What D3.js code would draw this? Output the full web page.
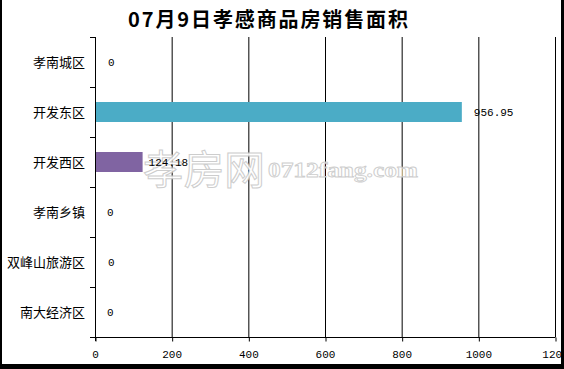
<!DOCTYPE html>
<html><head><meta charset="utf-8">
<script src="https://cdn.jsdelivr.net/npm/d3@7"></script>
<style>body{margin:0;background:#fff}svg{display:block}</style>
</head><body>
<svg id="c" width="564" height="369"></svg>
<script>
const title = "07月9日孝感商品房销售面积";
const categories = ["孝南城区","开发东区","开发西区","孝南乡镇","双峰山旅游区","南大经济区"];
const values = [0, 956.95, 124.18, 0, 0, 0];
const valueLabels = ["0","956.95","124.18","0","0","0"];
const barColors = ["#4BACC6","#4BACC6","#8064A2","#4BACC6","#4BACC6","#4BACC6"];
const xTicks = [0,200,400,600,800,1000,1200];

const svg = d3.select("#c");
const W = 564, H = 369;
const m = {left:95, right:9, top:37, bottom:32};
const x = d3.scaleLinear().domain([0,1200]).range([m.left, W - m.right]);
const y = d3.scaleBand().domain(categories).range([m.top, H - m.bottom]).paddingInner(0).paddingOuter(0);

// title
svg.append("text").attr("x", 268).attr("y", 27).attr("text-anchor","middle")
  .attr("font-family","'Noto Sans CJK SC', sans-serif").attr("font-weight","bold")
  .attr("font-size",20).attr("textLength",280).attr("lengthAdjust","spacing")
  .attr("fill","#000").text(title);

// gridlines
svg.append("g").selectAll("line").data(xTicks.slice(1)).join("line")
  .attr("x1", d=>x(d)+0.5).attr("x2", d=>x(d)+0.5)
  .attr("y1", m.top).attr("y2", H - m.bottom)
  .attr("stroke","#000").attr("stroke-width",1);

// bars
const bh = y.bandwidth()*0.4;
svg.append("g").selectAll("rect").data(values).join("rect")
  .attr("x", x(0)).attr("y", (d,i)=>y(categories[i]) + (y.bandwidth()-bh)/2)
  .attr("width", d=>x(d)-x(0)).attr("height", bh)
  .attr("fill", (d,i)=>barColors[i]);

// watermark
const wm = svg.append("g").attr("opacity",0.9);
wm.append("text").attr("x",143).attr("y",184)
  .attr("font-family","'Noto Sans CJK SC', sans-serif").attr("font-size",40)
  .attr("textLength",122).attr("lengthAdjust","spacingAndGlyphs")
  .attr("fill","#fff").attr("stroke","#c8c8c8").attr("stroke-width",1).text("孝房网");
wm.append("text").attr("x",268).attr("y",177)
  .attr("font-family","'Liberation Serif', serif").attr("font-weight","bold").attr("font-size",20)
  .attr("textLength",150).attr("lengthAdjust","spacingAndGlyphs")
  .attr("fill","#fff").attr("stroke","#c8c8c8").attr("stroke-width",0.8).text("0712fang.com");

// value labels
const dxs = [13, 12, 6, 12, 13, 12];
svg.append("g").selectAll("text").data(values).join("text")
  .attr("x", (d,i)=>x(d)+dxs[i]).attr("y", (d,i)=>y(categories[i]) + y.bandwidth()/2 + 4)
  .attr("font-family","'Liberation Mono', monospace").attr("font-size",11)
  .attr("fill","#000").text((d,i)=>valueLabels[i]);

// y axis
const ya = svg.append("g");
ya.append("line").attr("x1",m.left+0.5).attr("x2",m.left+0.5).attr("y1",m.top).attr("y2",H-m.bottom+4).attr("stroke","#000");
const bounds = categories.map(c=>y(c)).concat([H-m.bottom]);
ya.selectAll("line.t").data(bounds).join("line").attr("class","t")
  .attr("x1",m.left-5).attr("x2",m.left).attr("y1",d=>d+0.5).attr("y2",d=>d+0.5).attr("stroke","#000");
ya.selectAll("text").data(categories).join("text")
  .attr("x",85).attr("y",d=>y(d)+y.bandwidth()/2).attr("dy","0.35em")
  .attr("text-anchor","end").attr("font-family","'Noto Sans CJK SC', sans-serif")
  .attr("font-size",13).attr("fill","#000").text(d=>d);

// x axis
const xa = svg.append("g").attr("transform",`translate(0,${H-m.bottom+0.5})`)
  .call(d3.axisBottom(x).tickValues(xTicks).tickSize(4).tickPadding(9).tickFormat(d3.format("d")));
xa.select(".domain").attr("stroke","#000").attr("d",`M${m.left},0H${W-m.right+0.5}`);
xa.selectAll(".tick line").attr("stroke","#000").attr("transform","translate(0.5,0)");
xa.selectAll(".tick text").attr("font-family","'Liberation Mono', monospace").attr("font-size",11).attr("fill","#000");

// outer border
svg.append("rect").attr("x",0).attr("y",0).attr("width",2).attr("height",H).attr("fill","#000");
svg.append("rect").attr("x",561).attr("y",0).attr("width",3).attr("height",H).attr("fill","#000");
svg.append("rect").attr("x",0).attr("y",364).attr("width",W).attr("height",5).attr("fill","#000");
</script>
</body></html>
